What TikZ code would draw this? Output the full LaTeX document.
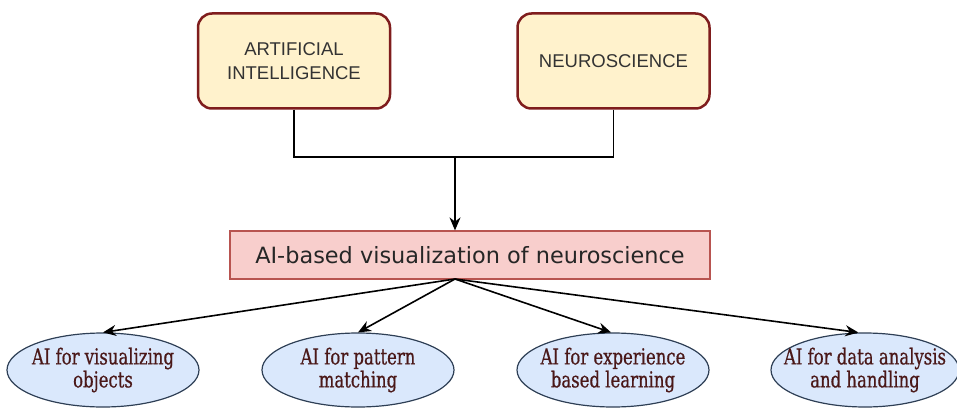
\documentclass[tikz,border=0pt]{standalone}
\usepackage{fontspec}
\setmainfont{DejaVu Serif}
\newfontfamily\boxfont{Liberation Sans}
\newfontfamily\midfont{DejaVu Sans}
\newfontfamily\ellfont[FakeStretch=0.75,FakeBold=0.6]{DejaVu Serif}
\usetikzlibrary{arrows.meta,shapes.geometric}
\definecolor{topfill}{HTML}{FFF2CC}
\definecolor{topdraw}{HTML}{7F1D1D}
\definecolor{midfill}{HTML}{F8CECC}
\definecolor{middraw}{HTML}{B85450}
\definecolor{ellfill}{HTML}{DAE8FC}
\definecolor{elldraw}{HTML}{2E3F55}
\definecolor{elltext}{HTML}{4A1818}
\definecolor{toptext}{HTML}{333333}
\tikzset{
  topbox/.style={draw=topdraw, fill=topfill, line width=2.5pt, rounded corners=14pt,
    minimum width=192pt, minimum height=95pt, align=center, text=toptext,
    font=\boxfont\fontsize{18.5}{24}\selectfont},
  midbox/.style={draw=middraw, fill=midfill, line width=1.2pt,
    minimum width=480pt, minimum height=48pt, text=black!85,
    font=\midfont\fontsize{22.4}{26}\selectfont},
  ellbox/.style={ellipse, draw=elldraw, fill=ellfill, line width=1.2pt,
    minimum width=192pt, minimum height=74pt, inner xsep=-30pt, inner ysep=0pt,
    align=center, text=elltext,
    font=\ellfont\fontsize{22}{23}\selectfont},
  conn/.style={draw=black, line width=1.6pt},
  arr/.style={conn, -{Stealth[length=13pt,width=11pt]}}
}
\begin{document}
\begin{tikzpicture}[x=1pt,y=-1pt]
\useasboundingbox (0,0) rectangle (957,409);
\node[topbox] (ai) at (294,61) {ARTIFICIAL\\INTELLIGENCE};
\node[topbox] (ns) at (613.5,61) {NEUROSCIENCE};
\node[midbox] (mid) at (470,255) {AI-based visualization of neuroscience};
\node[ellbox] (e1) at (103,370) {AI for visualizing\\objects};
\node[ellbox] (e2) at (358,370) {AI for pattern\\matching};
\node[ellbox] (e3) at (613,370) {AI for experience\\based learning};
\node[ellbox, minimum width=188pt] (e4) at (865,370) {AI for data analysis\\and handling};
\coordinate (j) at (455,157);
\coordinate (fan) at (455,279);
\draw[conn] (ai.south) |- (j);
\draw[conn] (ns.south) |- (j);
\draw[arr] (j) -- (j |- mid.north);
\draw[arr] (fan) -- (e1.north);
\draw[arr] (fan) -- (e2.north);
\draw[arr] (fan) -- (e3.93);
\draw[arr] (fan) -- (e4.100);
\end{tikzpicture}
\end{document}
